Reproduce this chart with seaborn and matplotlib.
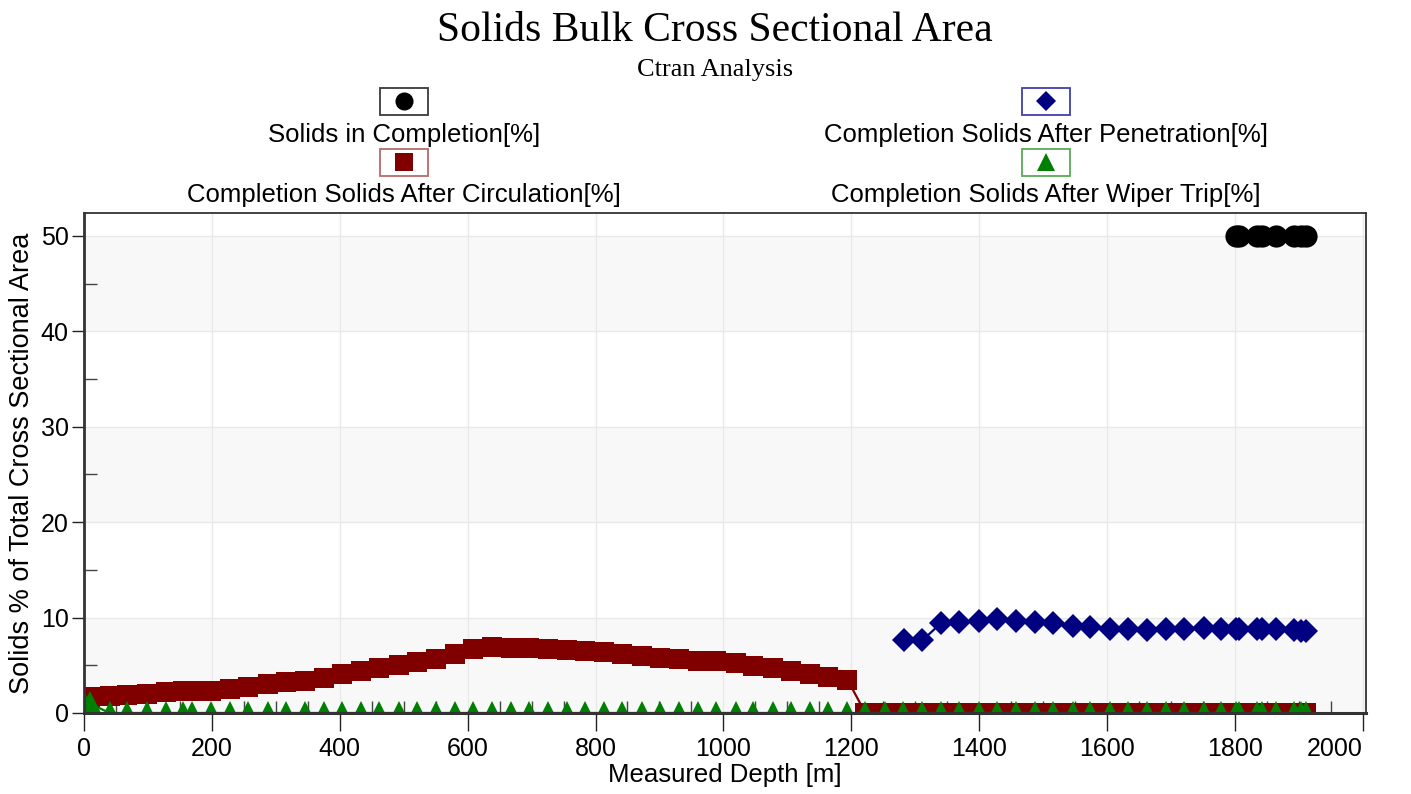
import matplotlib
matplotlib.use("Agg")
import matplotlib.pyplot as plt
from matplotlib.lines import Line2D
from matplotlib.patches import Rectangle
from matplotlib.ticker import MultipleLocator
import seaborn as sns

# measured depth [m] of the circulation / wiper trip samples
depth = [9, 40, 68, 98, 128, 155, 169, 198, 228, 257, 287, 316, 345, 375, 404,
         433, 462, 492, 521, 550, 580, 609, 638, 668, 696, 725, 755, 784, 813,
         842, 872, 901, 931, 960, 989, 1019, 1047, 1077, 1106, 1135, 1164, 1194,
         1222, 1252, 1281, 1311, 1340, 1369, 1399, 1428, 1458, 1487, 1516, 1546,
         1574, 1604, 1633, 1663, 1692, 1720, 1751, 1779, 1801, 1806, 1835, 1843,
         1864, 1892, 1903, 1911]
after_circulation = [1.7, 1.8, 1.9, 2.0, 2.2, 2.3, 2.35, 2.35, 2.5, 2.7, 3.0, 3.2,
                     3.4, 3.7, 4.1, 4.4, 4.7, 5.0, 5.3, 5.7, 6.2, 6.7, 6.9, 6.8,
                     6.8, 6.7, 6.6, 6.5, 6.4, 6.2, 6.0, 5.8, 5.65, 5.45, 5.4, 5.2,
                     4.95, 4.7, 4.45, 4.1, 3.8, 3.5,
                     0, 0, 0, 0, 0, 0, 0, 0, 0, 0, 0, 0, 0, 0,
                     0, 0, 0, 0, 0, 0, 0, 0, 0, 0, 0, 0, 0, 0]

wiper_depth = [2] + depth
after_wiper_trip = [0.8, 1.0,
                    0, 0, 0, 0, 0, 0, 0, 0, 0, 0, 0, 0, 0, 0, 0, 0, 0, 0, 0, 0, 0, 0, 0,
                    0, 0, 0, 0, 0, 0, 0, 0, 0, 0, 0, 0, 0, 0, 0, 0, 0, 0, 0, 0, 0, 0, 0,
                    0, 0, 0, 0, 0, 0, 0, 0, 0, 0, 0, 0, 0, 0, 0, 0, 0, 0, 0, 0, 0, 0, 0]

penetration_depth = [1283, 1311, 1340, 1369, 1399, 1428, 1458, 1487, 1516, 1546,
                     1574, 1604, 1633, 1663, 1692, 1720, 1751, 1779, 1801, 1806,
                     1835, 1843, 1864, 1892, 1903, 1911]
after_penetration = [7.6, 7.6, 9.4, 9.55, 9.65, 9.85, 9.65, 9.5, 9.4, 9.15, 9.05,
                     8.85, 8.8, 8.7, 8.8, 8.85, 8.95, 8.85, 8.85, 8.8, 8.85, 8.8,
                     8.8, 8.7, 8.6, 8.6]

completion_depth = [1801, 1806, 1835, 1843, 1864, 1892, 1903, 1911]
solids_in_completion = [50, 50, 50, 50, 50, 50, 50, 50]

names = ["Solids in Completion[%]", "Completion Solids After Penetration[%]",
         "Completion Solids After Circulation[%]", "Completion Solids After Wiper Trip[%]"]
colors = ["#000000", "#000080", "#800000", "#008000"]
markers = ["o", "D", "s", "^"]
msizes = [16, 12, 15, 17]
box_edges = ["#3a3a3a", "#4040a8", "#b86a6a", "#5aaa5a"]

sns.set_style("white")
plt.rcParams["font.family"] = ["Liberation Sans", "DejaVu Sans"]
plt.rcParams.update({"text.color": "black", "axes.labelcolor": "black",
                     "xtick.color": "black", "ytick.color": "black"})

W, H = 1411, 794
fig = plt.figure(figsize=(W / 100, H / 100), dpi=100)
ax = fig.add_axes([84 / W, 1 - 713 / H, (1366 - 84) / W, (713 - 213) / H])

for y0 in (0, 20, 40):
    ax.axhspan(y0, y0 + 10, color="#f8f8f8", zorder=0, lw=0)
ax.grid(True, color="#e9e9e9", lw=1)
ax.set_axisbelow(True)

series = [(completion_depth, solids_in_completion),
          (penetration_depth, after_penetration),
          (depth, after_circulation),
          (wiper_depth, after_wiper_trip)]
for (xs, ys), c, m, ms in zip(series, colors, markers, msizes):
    sns.lineplot(x=xs, y=ys, ax=ax, color=c, marker=m, markersize=ms,
                 markeredgewidth=0, linewidth=1.6, estimator=None, sort=False,
                 legend=False)

ax.set_xlim(0, 2005)
ax.set_ylim(0, 52.4)
xticks = list(range(0, 2001, 200))
ax.set_xticks(xticks, [str(t) for t in xticks])
ax.xaxis.set_minor_locator(MultipleLocator(50))
ax.yaxis.set_major_locator(MultipleLocator(10))
ax.yaxis.set_minor_locator(MultipleLocator(5))
ax.tick_params(which="major", axis="x", direction="out", length=13, width=1,
               color="#222222", labelcolor="black", labelsize=18, pad=4, bottom=True)
ax.tick_params(which="major", axis="y", direction="out", length=9, width=1,
               color="#222222", labelcolor="black", labelsize=18, pad=2, left=True)
ax.tick_params(which="minor", direction="in", length=9, width=1, color="#444444",
               bottom=True, left=True)
for s in ax.spines.values():
    s.set_color("#333333")
    s.set_linewidth(1.3)
ax.spines["left"].set_linewidth(2)
ax.spines["bottom"].set_linewidth(2.2)

# last depth label is pulled inside the figure edge
ax.get_xticklabels()[-1].set_horizontalalignment("right")

ax.set_xlabel("Measured Depth [m]", fontsize=18.5, labelpad=2, color="black")
ax.set_ylabel("Solids % of Total Cross Sectional Area", fontsize=19.5, labelpad=4,
              color="black")

fig.text(715 / W, 1 - 31 / H, "Solids Bulk Cross Sectional Area",
         family="Liberation Serif", fontsize=30, ha="center", va="center", color="black")
fig.text(715 / W, 1 - 70 / H, "Ctran Analysis",
         family="Liberation Serif", fontsize=19, ha="center", va="center", color="black")

# legend: boxed marker above each label, two columns
legend_slots = [(404, 101, 135), (1046, 101, 135), (404, 162, 195), (1046, 162, 195)]
for (cx, by, ty), name, c, m, edge in zip(legend_slots, names, colors, markers, box_edges):
    fig.add_artist(Rectangle(((cx - 24) / W, 1 - (by + 13.5) / H), 48 / W, 27 / H,
                             transform=fig.transFigure, facecolor="white",
                             edgecolor=edge, lw=1.3))
    lm = {"o": 13, "D": 10, "s": 12.5, "^": 13}[m]
    fig.add_artist(Line2D([cx / W], [1 - by / H], transform=fig.transFigure,
                          marker=m, color=c, markersize=lm, markeredgewidth=0,
                          linestyle="none"))
    fig.text(cx / W, 1 - ty / H, name, fontsize=18.5, ha="center", va="center",
             color="black")

fig.savefig("out.png", dpi=100)
